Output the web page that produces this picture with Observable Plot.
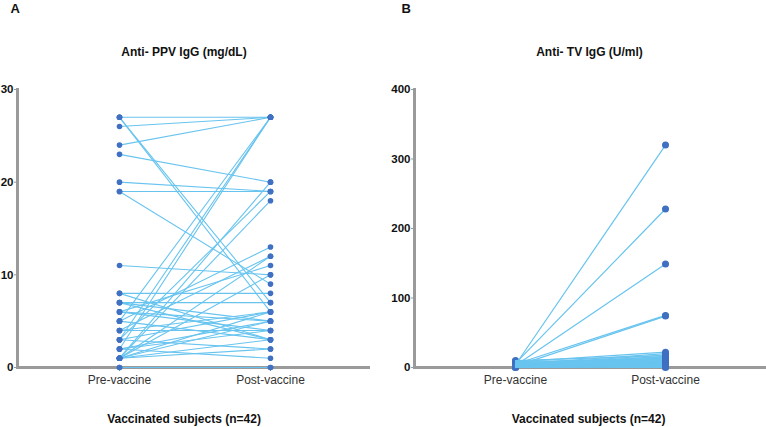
<!DOCTYPE html>
<html>
<head>
<meta charset="utf-8">
<script src="https://cdn.jsdelivr.net/npm/d3@7"></script>
<script src="https://cdn.jsdelivr.net/npm/@observablehq/plot@0.6"></script>
<style>
  body { margin: 0; background: #fff; }
  #wrap { width: 766px; height: 427px; display: flex; }
  #wrap svg { display: block; }
</style>
</head>
<body>
<div id="wrap"></div>
<script>
const phases = ["Pre-vaccine", "Post-vaccine"];
const panelLetters = ["A", "B"];
const titles = ["Anti- PPV IgG (mg/dL)", "Anti- TV IgG (U/ml)"];
const xLabel = "Vaccinated subjects (n=42)";
const yTicksA = [0, 10, 20, 30];
const yTicksB = [0, 100, 200, 300, 400];

// Panel A: paired values (mg/dL)
const preA  = [27, 27, 27, 26, 24, 23, 20, 19, 19, 11, 8, 8, 7, 7, 6, 6, 5, 5, 5, 4, 4, 3, 3, 3, 3, 2, 2, 2, 1, 1, 1, 1, 1, 1, 1, 1, 0, 0, 4, 6, 2, 7];
const postA = [27, 7, 6, 27, 27, 20, 19, 19, 9, 10, 8, 3, 7, 5, 11, 4, 27, 13, 3, 4, 12, 27, 19, 6, 2, 27, 5, 1, 20, 18, 12, 6, 5, 3, 2, 10, 0, 0, 6, 5, 4, 3];

// Panel B: paired values (U/ml)
const preB  = [4, 6, 3, 5, 2, 8, 5, 4, 10, 3, 6, 2, 7, 4, 1, 9, 3, 5, 2, 6, 1, 4, 3, 8, 2, 5, 3, 7, 1, 2, 4, 6, 0, 3, 2, 1, 5, 2, 0, 3, 1, 2];
const postB = [320, 228, 149, 75, 74, 22, 20, 18, 17, 16, 15, 14, 13, 12, 12, 11, 10, 10, 9, 9, 8, 8, 7, 7, 6, 6, 5, 5, 5, 4, 4, 4, 3, 3, 3, 2, 2, 2, 1, 1, 1, 0];

function toRows(pre, post) {
  const rows = [];
  pre.forEach((v, i) => {
    rows.push({subject: i, phase: phases[0], value: v});
    rows.push({subject: i, phase: phases[1], value: post[i]});
  });
  return rows;
}

const LINE = "#68c4ef";
const DOT = "#3f70c2";
const AXIS = "#9a9a9a";
const FONT = "'Liberation Sans', Arial, sans-serif";

function panel({rows, letter, title, yDomain, yTicks, marginLeft, marginRight, xRange, letterDx, titleDx, labelDx, dotR, split}) {
  const pre = rows.filter(d => d.phase === phases[0]);
  const post = rows.filter(d => d.phase === phases[1]);
  const marks = [
    Plot.ruleY([0], {stroke: AXIS, strokeWidth: 3}),
    Plot.frame({anchor: "left", stroke: AXIS, strokeWidth: 3}),
    Plot.axisY({ticks: yTicks, tickSize: 3, tickPadding: 1, stroke: AXIS, fill: "#111", fontWeight: "bold", fontSize: 11.5, label: null}),
    Plot.axisX({tickSize: 4, tickPadding: 4, stroke: AXIS, fill: "#333", fontSize: 12, label: null})
  ];
  if (split) {
    marks.push(Plot.dot(pre, {x: "phase", y: "value", r: dotR, fill: DOT}));
    marks.push(Plot.line(rows, {x: "phase", y: "value", z: "subject", stroke: LINE, strokeWidth: 1.2}));
    marks.push(Plot.dot(post, {x: "phase", y: "value", r: dotR, fill: DOT}));
  } else {
    marks.push(Plot.line(rows, {x: "phase", y: "value", z: "subject", stroke: LINE, strokeWidth: 1.1}));
    marks.push(Plot.dot(rows, {x: "phase", y: "value", r: dotR, fill: DOT}));
  }
  marks.push(
    Plot.text([letter], {frameAnchor: "top-left", textAnchor: "start", lineAnchor: "top", dx: letterDx, dy: -86, fontWeight: "bold", fontSize: 13, fill: "#111"}),
    Plot.text([title], {frameAnchor: "top", lineAnchor: "middle", dx: titleDx, dy: -37, fontWeight: "bold", fontSize: 12, fill: "#111"}),
    Plot.text([xLabel], {frameAnchor: "bottom", lineAnchor: "middle", dx: labelDx, dy: 52, fontWeight: "bold", fontSize: 12, fill: "#111"})
  );
  return Plot.plot({
    width: 383,
    height: 427,
    marginLeft,
    marginRight,
    marginTop: 89,
    marginBottom: 60,
    style: {fontFamily: FONT, background: "#fff"},
    x: {type: "point", domain: phases, range: xRange, padding: 0},
    y: {domain: yDomain},
    marks
  });
}

const wrap = document.getElementById("wrap");
wrap.appendChild(panel({
  rows: toRows(preA, postA), letter: panelLetters[0], title: titles[0],
  yDomain: [0, 30], yTicks: yTicksA, marginLeft: 17, marginRight: 13,
  xRange: [119, 270], letterDx: -7, titleDx: -10, labelDx: -10, dotR: 2.8, split: false
}));
wrap.appendChild(panel({
  rows: toRows(preB, postB), letter: panelLetters[1], title: titles[1],
  yDomain: [0, 400], yTicks: yTicksB, marginLeft: 31, marginRight: 0,
  xRange: [132, 282], letterDx: -13, titleDx: -1, labelDx: -2, dotR: 3.5, split: true
}));
</script>
</body>
</html>
